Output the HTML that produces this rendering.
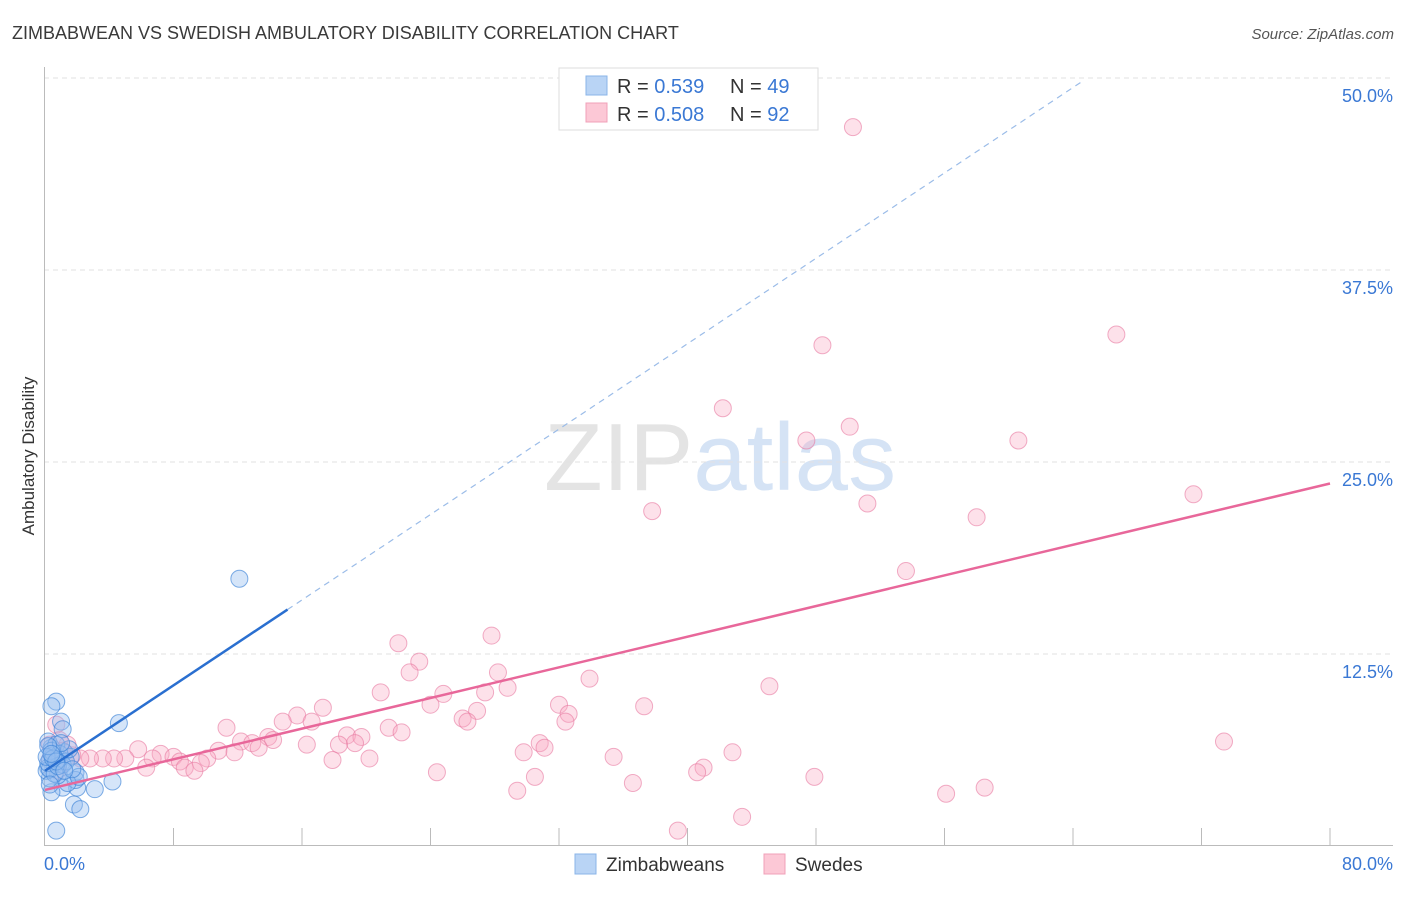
<!DOCTYPE html>
<html><head><meta charset="utf-8"><style>
body{margin:0;background:#fff;font-family:"Liberation Sans",sans-serif}
svg text{font-family:"Liberation Sans",sans-serif}
</style></head><body>
<svg id="chart" width="1406" height="892" xmlns="http://www.w3.org/2000/svg">
<text x="12" y="39" font-size="18" fill="#3a3a3a">ZIMBABWEAN VS SWEDISH AMBULATORY DISABILITY CORRELATION CHART</text>
<text x="1394" y="39" font-size="15" fill="#555" text-anchor="end" font-style="italic">Source: ZipAtlas.com</text>
<text x="720" y="490" font-size="96" text-anchor="middle" fill="#e4e4e4" font-family="Liberation Serif">ZIP<tspan fill="#d5e3f5" font-family="Liberation Sans">atlas</tspan></text>
<g id="grid"></g>
<g id="axes"></g>
<g id="pts"></g>
<g id="lines"></g>
<text transform="translate(34,456) rotate(-90)" font-size="17" fill="#333" text-anchor="middle">Ambulatory Disability</text>
<g>
<rect x="559" y="68" width="259" height="62" fill="#fff" stroke="#ddd"/>
<rect x="586" y="76" width="21" height="19" fill="#b9d4f5" stroke="#8ab4e8"/>
<rect x="586" y="103" width="21" height="19" fill="#fcc8d6" stroke="#f0a0b8"/>
<text x="617" y="93" font-size="20" fill="#333">R = <tspan fill="#3a78d4">0.539</tspan><tspan x="730">N = </tspan><tspan fill="#3a78d4">49</tspan></text>
<text x="617" y="121" font-size="20" fill="#333">R = <tspan fill="#3a78d4">0.508</tspan><tspan x="730">N = </tspan><tspan fill="#3a78d4">92</tspan></text>
</g>
<g>
<rect x="575" y="854" width="21" height="20" fill="#b9d4f5" stroke="#8ab4e8"/>
<text x="606" y="871" font-size="19" fill="#333">Zimbabweans</text>
<rect x="764" y="854" width="21" height="20" fill="#fcc8d6" stroke="#f0a0b8"/>
<text x="795" y="871" font-size="19" fill="#333">Swedes</text>
</g>
</svg>
<script>
const yTicks=[12.5,25,37.5,50];
const yTickLabels=["12.5%","25.0%","37.5%","50.0%"];
const xTickVals=[0,8,16,24,32,40,48,56,64,72,80];
const xEndLabels=["0.0%","80.0%"];
const blueX=[12.1,4.6,0.7,0.4,1.0,1.1,4.2,3.1,1.8,2.2,0.7,2.0,1.9,1.1,0.4,0.3,0.2,0.6,0.9,1.2,0.4,0.2,0.7,1.6,1.9,1.4,0.8,0.3,0.1,1.1,0.5,0.3,0.9,1.3,0.2,0.6,1.5,0.4,0.8,0.1,2.1,1.0,0.3,0.5,1.7,0.2,0.7,1.2,0.4];
const blueY=[17.4,8.0,9.4,9.1,8.1,7.6,4.2,3.7,2.7,2.4,1.0,3.8,4.8,3.8,3.5,5.6,5.1,5.3,5.7,6.1,6.4,6.8,6.6,5.8,4.3,4.1,4.6,4.4,4.9,5.3,5.9,5.0,6.0,5.5,5.4,4.7,6.3,6.2,5.2,5.8,4.5,6.7,4.0,5.7,5.0,6.5,5.5,4.9,6.0];
const pinkX=[50.3,48.4,66.7,42.2,47.4,50.1,60.6,71.5,37.8,51.2,58.0,53.6,27.8,22.0,23.3,22.7,28.2,33.9,20.9,27.4,28.8,45.1,24.8,24.0,32.0,37.3,17.3,26.9,15.7,32.6,26.0,26.3,32.4,14.8,16.6,11.3,21.4,22.2,18.8,19.7,13.9,73.4,12.2,19.3,12.9,30.8,14.2,18.3,16.3,13.3,31.1,5.8,10.8,29.8,42.8,11.8,7.2,35.4,10.1,20.2,8.0,17.9,5.0,4.3,3.6,2.8,2.2,8.4,6.7,9.7,6.3,8.7,9.3,41.0,40.6,24.4,30.5,47.9,36.6,58.5,29.4,56.1,43.4,39.4,0.3,0.9,1.4,1.7,0.7,0.3,0.8,1.1];
const pinkY=[46.8,32.6,33.3,28.5,26.4,27.3,26.4,22.9,21.8,22.3,21.4,17.9,13.7,13.2,12.0,11.3,11.3,10.9,10.0,10.0,10.3,10.4,9.9,9.2,9.2,9.1,9.0,8.8,8.5,8.6,8.3,8.1,8.1,8.1,8.1,7.7,7.7,7.4,7.2,7.1,7.1,6.8,6.8,6.7,6.7,6.7,6.9,6.6,6.6,6.4,6.4,6.3,6.2,6.1,6.1,6.1,6.0,5.8,5.7,5.7,5.8,5.6,5.7,5.7,5.7,5.7,5.7,5.5,5.7,5.4,5.1,5.1,4.9,5.1,4.8,4.8,4.5,4.5,4.1,3.8,3.6,3.4,1.9,1.0,6.6,6.9,6.6,5.9,7.9,5.6,4.9,6.2];
const blueTrend=[4.9,0.695];   // intercept, slope
const blueSolidEnd=15.1, blueDashEnd=64.5;
const pinkTrend=[3.65,0.2494];
const NS="http://www.w3.org/2000/svg";
const X=v=>45+v*1285/80, Y=v=>846-v*15.36;
function mk(tag,attrs,parent){const e=document.createElementNS(NS,tag);for(const k in attrs)e.setAttribute(k,attrs[k]);parent.appendChild(e);return e;}
const grid=document.getElementById('grid'),axes=document.getElementById('axes'),pts=document.getElementById('pts'),lines=document.getElementById('lines');
yTicks.forEach((t,i)=>{
 const l=mk('line',{x1:44,x2:1393,y1:Y(t),y2:Y(t),stroke:'#e2e2e2','stroke-dasharray':'5,4'},grid);
 
 
 const tx=mk('text',{x:1393,y:Y(t)+24,'font-size':18,fill:'#3a78d4','text-anchor':'end'},grid);
 tx.textContent=yTickLabels[i];
 
 
});
const ya=mk('line',{x1:44.5,x2:44.5,y1:67,y2:846,stroke:'#bbb'},axes);


const xa=mk('line',{x1:44,x2:1393,y1:845.5,y2:845.5,stroke:'#bbb'},axes);


xTickVals.forEach(v=>{if(v===0)return;
 const t=mk('line',{x1:X(v),x2:X(v),y1:828,y2:846,stroke:'#bbb'},axes);
 
 
});
[[0,'start',44],[80,'end',1393]].forEach((a,i)=>{
 const t=mk('text',{x:a[2],y:870,'font-size':18,fill:'#3a78d4','text-anchor':a[1]},axes);
 t.textContent=xEndLabels[i];
 
 
});
pinkX.forEach((x,i)=>{
 const c=mk('circle',{cx:X(x),cy:Y(pinkY[i]),r:8.5,fill:'rgba(248,170,195,0.35)',stroke:'rgba(232,120,160,0.6)','stroke-width':1},pts);
 
 
});
blueX.forEach((x,i)=>{
 const c=mk('circle',{cx:X(x),cy:Y(blueY[i]),r:8.5,fill:'rgba(150,190,240,0.4)',stroke:'rgba(60,130,215,0.65)','stroke-width':1},pts);
 
 
});
const bt=x=>blueTrend[0]+blueTrend[1]*x, pt=x=>pinkTrend[0]+pinkTrend[1]*x;
const bd=mk('line',{x1:X(blueSolidEnd),y1:Y(bt(blueSolidEnd)),x2:X(blueDashEnd),y2:Y(bt(blueDashEnd)),stroke:'#9bbce8','stroke-width':1.2,'stroke-dasharray':'6,5'},lines);


const bs=mk('line',{x1:X(0),y1:Y(bt(0)),x2:X(blueSolidEnd),y2:Y(bt(blueSolidEnd)),stroke:'#2a6fd0','stroke-width':2.5},lines);


const ps=mk('line',{x1:X(0),y1:Y(pt(0)),x2:X(80),y2:Y(pt(80)),stroke:'#e8679a','stroke-width':2.5},lines);


</script>
</body></html>
